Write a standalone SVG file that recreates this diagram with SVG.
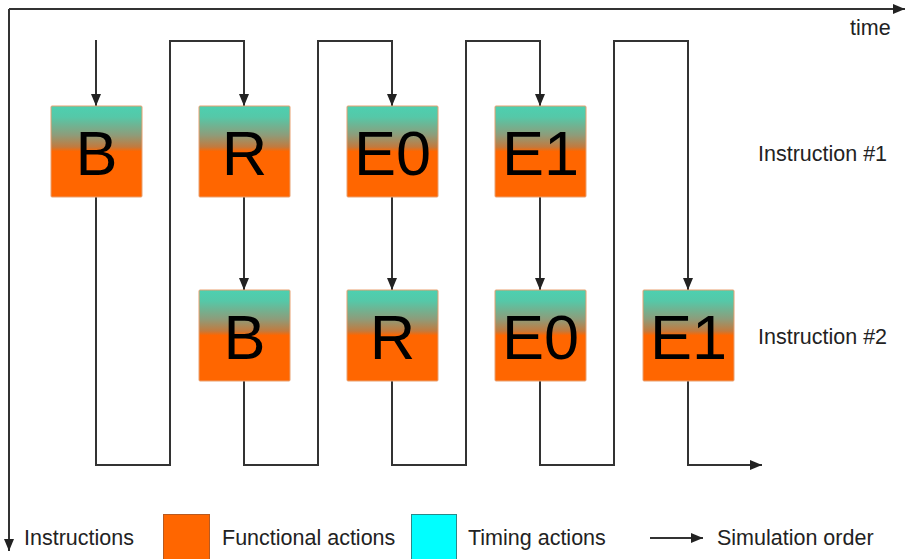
<svg xmlns="http://www.w3.org/2000/svg" width="908" height="559" viewBox="0 0 908 559">
<style>
.ln{fill:none;stroke:#333;stroke-width:2}
.arr{marker-end:url(#ah)}
.box{fill:url(#g);stroke:#e8a070;stroke-width:1}
.big{font-family:"Liberation Sans",Arial,sans-serif;font-size:63px;fill:#000;text-anchor:middle}
.lbl{font-family:"Liberation Sans",Arial,sans-serif;font-size:21.5px;fill:#222}
</style>
<defs>
<linearGradient id="g" x1="0" y1="0" x2="0" y2="1">
<stop offset="0" stop-color="#4dd0b0"/>
<stop offset="0.12" stop-color="#55c8a8"/>
<stop offset="0.32" stop-color="#8e9c7a"/>
<stop offset="0.45" stop-color="#c27a3e"/>
<stop offset="0.5" stop-color="#ff6600"/>
<stop offset="1" stop-color="#ff6600"/>
</linearGradient>
<marker id="ah" markerWidth="12" markerHeight="10" refX="12" refY="5" orient="auto" markerUnits="userSpaceOnUse">
<path d="M0,0 L12,5 L0,10 Z" fill="#222"/>
</marker>
</defs>

<g id="axes">
<path class="ln arr" d="M9,9 H905"/>
<path class="ln arr" d="M9,9 V551"/>
<text class="lbl" x="850" y="35">time</text>
</g>

<g id="connectors">
<path class="ln arr" d="M96,40 V106"/>
<path class="ln arr" d="M96,197 V465 H170 V41 H244 V106"/>
<path class="ln arr" d="M244,197 V290"/>
<path class="ln arr" d="M244,381 V465 H318 V41 H392 V106"/>
<path class="ln arr" d="M392,197 V290"/>
<path class="ln arr" d="M392,381 V465 H466 V41 H540 V106"/>
<path class="ln arr" d="M540,197 V290"/>
<path class="ln arr" d="M540,381 V465 H614 V41 H688 V290"/>
<path class="ln arr" d="M688,381 V465 H762"/>
</g>

<g id="i1-B"><rect class="box" x="51" y="106" width="91" height="91" rx="1"/><text class="big" x="96.5" y="175">B</text></g>
<g id="i1-R"><rect class="box" x="199" y="106" width="91" height="91" rx="1"/><text class="big" x="244.5" y="175">R</text></g>
<g id="i1-E0"><rect class="box" x="347" y="106" width="91" height="91" rx="1"/><text class="big" x="392.5" y="175">E0</text></g>
<g id="i1-E1"><rect class="box" x="495" y="106" width="91" height="91" rx="1"/><text class="big" x="540.5" y="175">E1</text></g>

<g id="i2-B"><rect class="box" x="199" y="290" width="91" height="91" rx="1"/><text class="big" x="244.5" y="359">B</text></g>
<g id="i2-R"><rect class="box" x="347" y="290" width="91" height="91" rx="1"/><text class="big" x="392.5" y="359">R</text></g>
<g id="i2-E0"><rect class="box" x="495" y="290" width="91" height="91" rx="1"/><text class="big" x="540.5" y="359">E0</text></g>
<g id="i2-E1"><rect class="box" x="643" y="290" width="91" height="91" rx="1"/><text class="big" x="688.5" y="359">E1</text></g>

<g id="labels">
<text class="lbl" x="758" y="161">Instruction #1</text>
<text class="lbl" x="758" y="344">Instruction #2</text>
</g>

<g id="legend">
<text class="lbl" x="24" y="545">Instructions</text>
<rect x="163.5" y="514.5" width="46" height="50" fill="#ff6600" stroke="#b85a20" stroke-width="1"/>
<text class="lbl" x="222" y="545">Functional actions</text>
<rect x="411.5" y="514.5" width="45" height="50" fill="#00ffff" stroke="#2a8a8a" stroke-width="1"/>
<text class="lbl" x="468" y="545">Timing actions</text>
<path class="ln arr" d="M650,538 H703"/>
<text class="lbl" x="717" y="545">Simulation order</text>
</g>
</svg>
